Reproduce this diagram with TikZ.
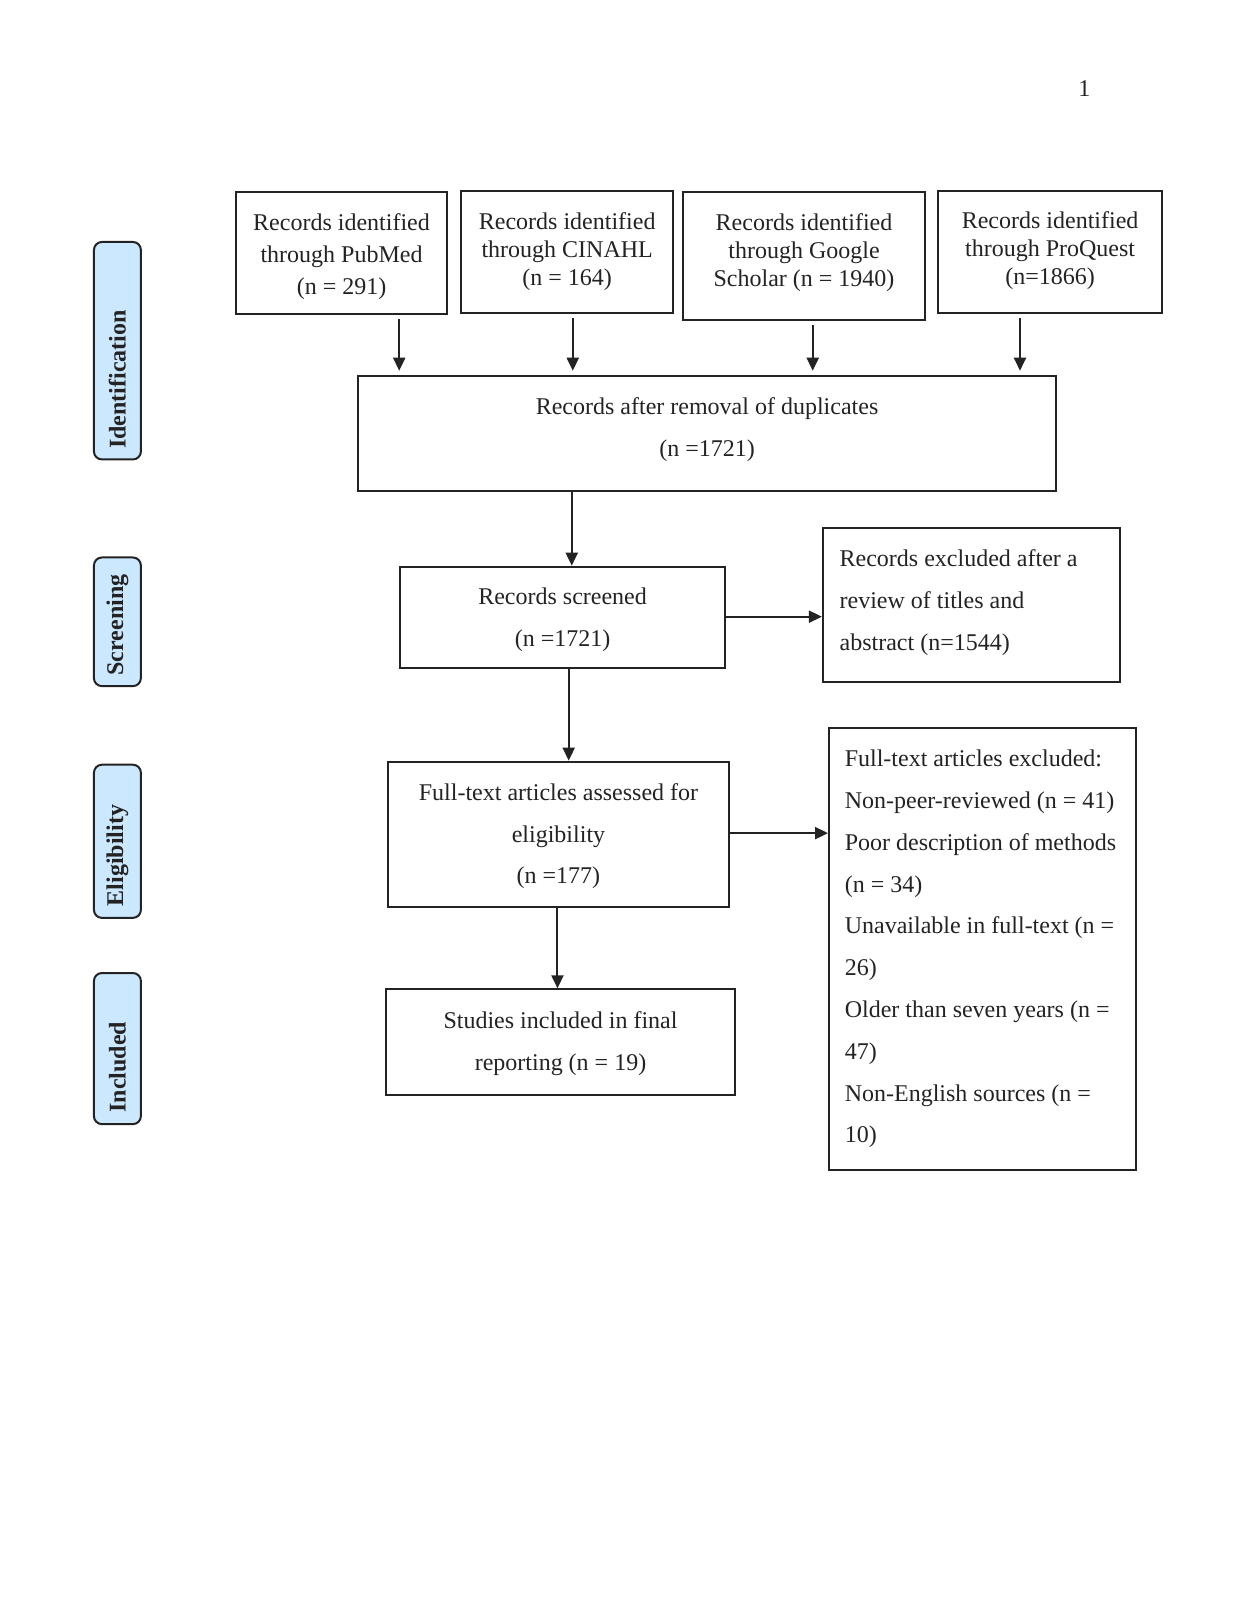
\documentclass[tikz,border=0pt]{standalone}
\usepackage{fontspec}
\setmainfont{Liberation Serif}
\usetikzlibrary{arrows.meta,fit}
\definecolor{lblue}{RGB}{204,232,255}
\definecolor{ink}{RGB}{35,35,35}
\begin{document}
\begin{tikzpicture}[x=0.5105pt,y=-0.5105pt,
  font=\fontsize{12}{14}\selectfont,
  box/.style={draw=ink, line width=1pt, inner sep=0pt},
  txt/.style={inner sep=0pt, text=ink, align=center},
  sgl/.style={font=\fontsize{12}{13.9}\selectfont},
  dbl/.style={font=\fontsize{12}{20.9}\selectfont},
  lbl/.style={draw=ink, fill=lblue, rounded corners=4pt, line width=1pt, inner sep=0pt},
  lbltext/.style={rotate=90, anchor=west, font=\fontsize{12}{14}\selectfont\bfseries, inner sep=0pt, text=ink},
  arr/.style={-{Triangle[length=6.5pt,width=6pt]}, line width=1pt, draw=ink}]
\useasboundingbox (0,0) rectangle (1210.6,1567.1);

% page number
\node[txt] (pg) at (1062,87) {1};

% side labels
\node[lbl, fit={(92,237) (138,450)}] (idl) {};
\node[lbltext] (idt) at (115,440) {Identification};
\node[lbl, fit={(92,546) (138,672)}] (scl) {};
\node[lbltext] (sct) at (115,662) {Screening};
\node[lbl, fit={(92,749) (138,899)}] (ell) {};
\node[lbltext] (elt) at (115,888) {Eligibility};
\node[lbl, fit={(92,953) (138,1101)}] (inl) {};
\node[lbltext] (int) at (115,1090) {Included};

% top boxes
\node[box, fit={(231,188) (438,308)}] (pub) {};
\node[txt, font=\fontsize{12}{16}\selectfont] (pubt) at (334.5,251.5) {Records identified\\through PubMed\\(n = 291)};
\node[box, fit={(452,187) (659,307)}] (cin) {};
\node[txt, sgl] (cint) at (555.5,246.5) {Records identified\\through CINAHL\\(n = 164)};
\node[box, fit={(669,188) (906,313)}] (goo) {};
\node[txt, sgl] (goot) at (787.5,247.5) {Records identified\\through Google\\Scholar (n = 1940)};
\node[box, fit={(919,187) (1138,307)}] (pro) {};
\node[txt, sgl] (prot) at (1028.5,245.5) {Records identified\\through ProQuest\\(n=1866)};

% duplicates
\node[box, fit={(351,368) (1034,481)}] (dup) {};
\node[txt, dbl] (dupt) at (692.5,420.5) {Records after removal of duplicates\\(n =1721)};

% screened
\node[box, fit={(392,555) (710,654)}] (scr) {};
\node[txt, dbl] (scrt) at (551,607) {Records screened\\(n =1721)};
\node[box, fit={(806,517) (1097,668)}] (ex1) {};
\node[txt, dbl, align=left, anchor=west] (ex1t) at (822,590.5) {Records excluded after a\\review of titles and\\abstract (n=1544)};

% eligibility
\node[box, fit={(380,746) (714,888)}] (ft) {};
\node[txt, dbl] (ftt) at (547,819) {Full-text articles assessed for\\eligibility\\(n =177)};
\node[box, fit={(812,713) (1113,1146)}] (ex2) {};
\node[txt, dbl, align=left, anchor=west] (ex2t) at (827,929.5) {Full-text articles excluded:\\Non-peer-reviewed (n = 41)\\Poor description of methods\\(n = 34)\\Unavailable in full-text (n =\\26)\\Older than seven years (n =\\47)\\Non-English sources (n =\\10)};

% included
\node[box, fit={(378,969) (720,1072)}] (inc) {};
\node[txt, dbl] (inct) at (549,1022) {Studies included in final\\reporting (n = 19)};

% arrow x positions
\coordinate (c1) at (391,0);
\coordinate (c2) at (561,0);
\coordinate (c3) at (796,0);
\coordinate (c4) at (999,0);
\coordinate (c5) at (560,0);
\coordinate (c6) at (557,0);
\coordinate (c7) at (546,0);
\coordinate (r1) at (0,604);
\coordinate (r2) at (0,816);

\draw[arr, shorten <=2pt, shorten >=2pt] (pub.south -| c1) -- (dup.north -| c1);
\draw[arr, shorten <=2pt, shorten >=2pt] (cin.south -| c2) -- (dup.north -| c2);
\draw[arr, shorten <=2pt, shorten >=2pt] (goo.south -| c3) -- (dup.north -| c3);
\draw[arr, shorten <=2pt, shorten >=2pt] (pro.south -| c4) -- (dup.north -| c4);
\draw[arr] (dup.south -| c5) -- (scr.north -| c5);
\draw[arr] (scr.east |- r1) -- (ex1.west |- r1);
\draw[arr] (scr.south -| c6) -- (ft.north -| c6);
\draw[arr] (ft.east |- r2) -- (ex2.west |- r2);
\draw[arr] (ft.south -| c7) -- (inc.north -| c7);
\end{tikzpicture}
\end{document}
